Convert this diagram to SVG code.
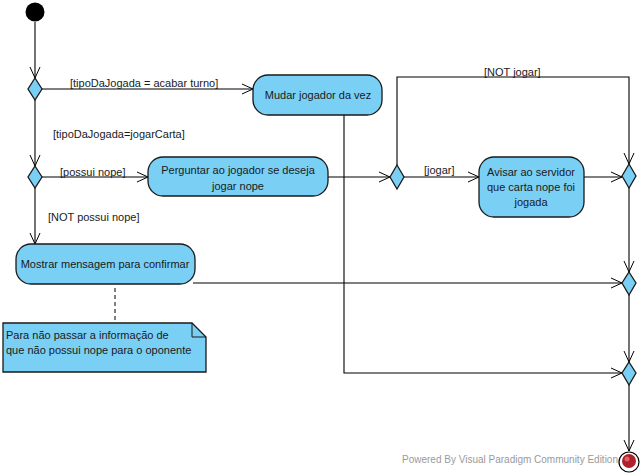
<svg xmlns="http://www.w3.org/2000/svg" width="643" height="476" viewBox="0 0 643 476">
<defs>
<style>
.node{fill:#7ACFF5;stroke:#1a1a1a;stroke-width:1.3}
.t{font-family:"Liberation Sans",Arial,sans-serif;font-size:11px;fill:#1a1a1a}
.c{text-anchor:middle}
.ln{fill:none;stroke:#000;stroke-width:1.1}
.wm{font-family:"Liberation Sans",Arial,sans-serif;font-size:11px;fill:#9a9a9a}
</style>
<marker id="arr" viewBox="0 0 12 12" refX="11" refY="6" markerWidth="12" markerHeight="12" markerUnits="userSpaceOnUse" orient="auto">
<path d="M0,1 L11,6 L0,11" fill="none" stroke="#000" stroke-width="1"/>
</marker>
</defs>
<rect width="643" height="476" fill="#fff"/>

<g id="connectors">
<path class="ln" d="M35,22 L35,78" marker-end="url(#arr)"/>
<path class="ln" d="M42,89 L253,89" marker-end="url(#arr)"/>
<path class="ln" d="M35,100 L35,166" marker-end="url(#arr)"/>
<path class="ln" d="M42,177 L148,177" marker-end="url(#arr)"/>
<path class="ln" d="M35,188 L35,244" marker-end="url(#arr)"/>
<path class="ln" d="M328,177 L390,177" marker-end="url(#arr)"/>
<path class="ln" d="M397,165 L397,77 L629,77 L629,164" marker-end="url(#arr)"/>
<path class="ln" d="M403,177 L479,177" marker-end="url(#arr)"/>
<path class="ln" d="M584,177 L622,177" marker-end="url(#arr)"/>
<path class="ln" d="M629,187 L629,272" marker-end="url(#arr)"/>
<path class="ln" d="M193,283 L622,283" marker-end="url(#arr)"/>
<path class="ln" d="M629,295 L629,362" marker-end="url(#arr)"/>
<path class="ln" d="M344,115 L344,373 L622,373" marker-end="url(#arr)"/>
<path class="ln" d="M629,385 L629,451" marker-end="url(#arr)"/>
<path d="M115,288 L115,323" fill="none" stroke="#000" stroke-width="1" stroke-dasharray="4,3"/>
<text class="t" x="70" y="87">[tipoDaJogada = acabar turno]</text>
<text class="t" x="53" y="138">[tipoDaJogada=jogarCarta]</text>
<text class="t" x="60" y="176">[possui nope]</text>
<text class="t" x="48" y="221">[NOT possui nope]</text>
<text class="t" x="424" y="174">[jogar]</text>
<text class="t" x="484" y="76">[NOT jogar]</text>
</g>

<g id="initial">
<circle cx="35" cy="12" r="9.5" fill="#000"/>
</g>

<g id="decision1">
<polygon class="node" points="35,78 42,89 35,100 28,89"/>
</g>
<g id="decision2">
<polygon class="node" points="35,166 42,177 35,188 28,177"/>
</g>
<g id="decision3">
<polygon class="node" points="397,165 404,177 397,189 390,177"/>
</g>
<g id="merge1">
<polygon class="node" points="629,164 636,176 629,188 622,176"/>
</g>
<g id="merge2">
<polygon class="node" points="629,272 636,283 629,295 622,283"/>
</g>
<g id="merge3">
<polygon class="node" points="629,362 636,373 629,385 622,373"/>
</g>

<g id="mudar">
<rect class="node" x="253" y="75" width="129" height="40" rx="15" ry="15"/>
<text class="t c" x="318" y="99">Mudar jogador da vez</text>
</g>

<g id="perguntar">
<rect class="node" x="148" y="157" width="180" height="39" rx="15" ry="15"/>
<text class="t c" x="238" y="174">Perguntar ao jogador se deseja</text>
<text class="t c" x="238" y="190">jogar nope</text>
</g>

<g id="avisar">
<rect class="node" x="479" y="157" width="105" height="60" rx="15" ry="15"/>
<text class="t c" x="531" y="176">Avisar ao servidor</text>
<text class="t c" x="531" y="191">que carta nope foi</text>
<text class="t c" x="531" y="206">jogada</text>
</g>

<g id="mostrar">
<rect class="node" x="16" y="244" width="179" height="40" rx="15" ry="15"/>
<text class="t c" x="105" y="268">Mostrar mensagem para confirmar</text>
</g>

<g id="note">
<path class="node" d="M3,323 L192,323 L206,337 L206,372 L3,372 Z"/>
<path d="M192,323 L192,337 L206,337" fill="none" stroke="#1a1a1a" stroke-width="1"/>
<text class="t" x="6" y="339">Para não passar a informação de</text>
<text class="t" x="6" y="354">que não possui nope para o oponente</text>
</g>

<text class="wm" x="402" y="463" textLength="216" lengthAdjust="spacingAndGlyphs">Powered By  Visual Paradigm Community Edition</text>

<g id="final">
<circle cx="629" cy="462" r="10" fill="#fff" stroke="#000" stroke-width="1.2"/>
<circle cx="629" cy="461" r="7" fill="#b0202a"/>
<circle cx="627" cy="459" r="2.5" fill="#e06070"/>
</g>
</svg>
